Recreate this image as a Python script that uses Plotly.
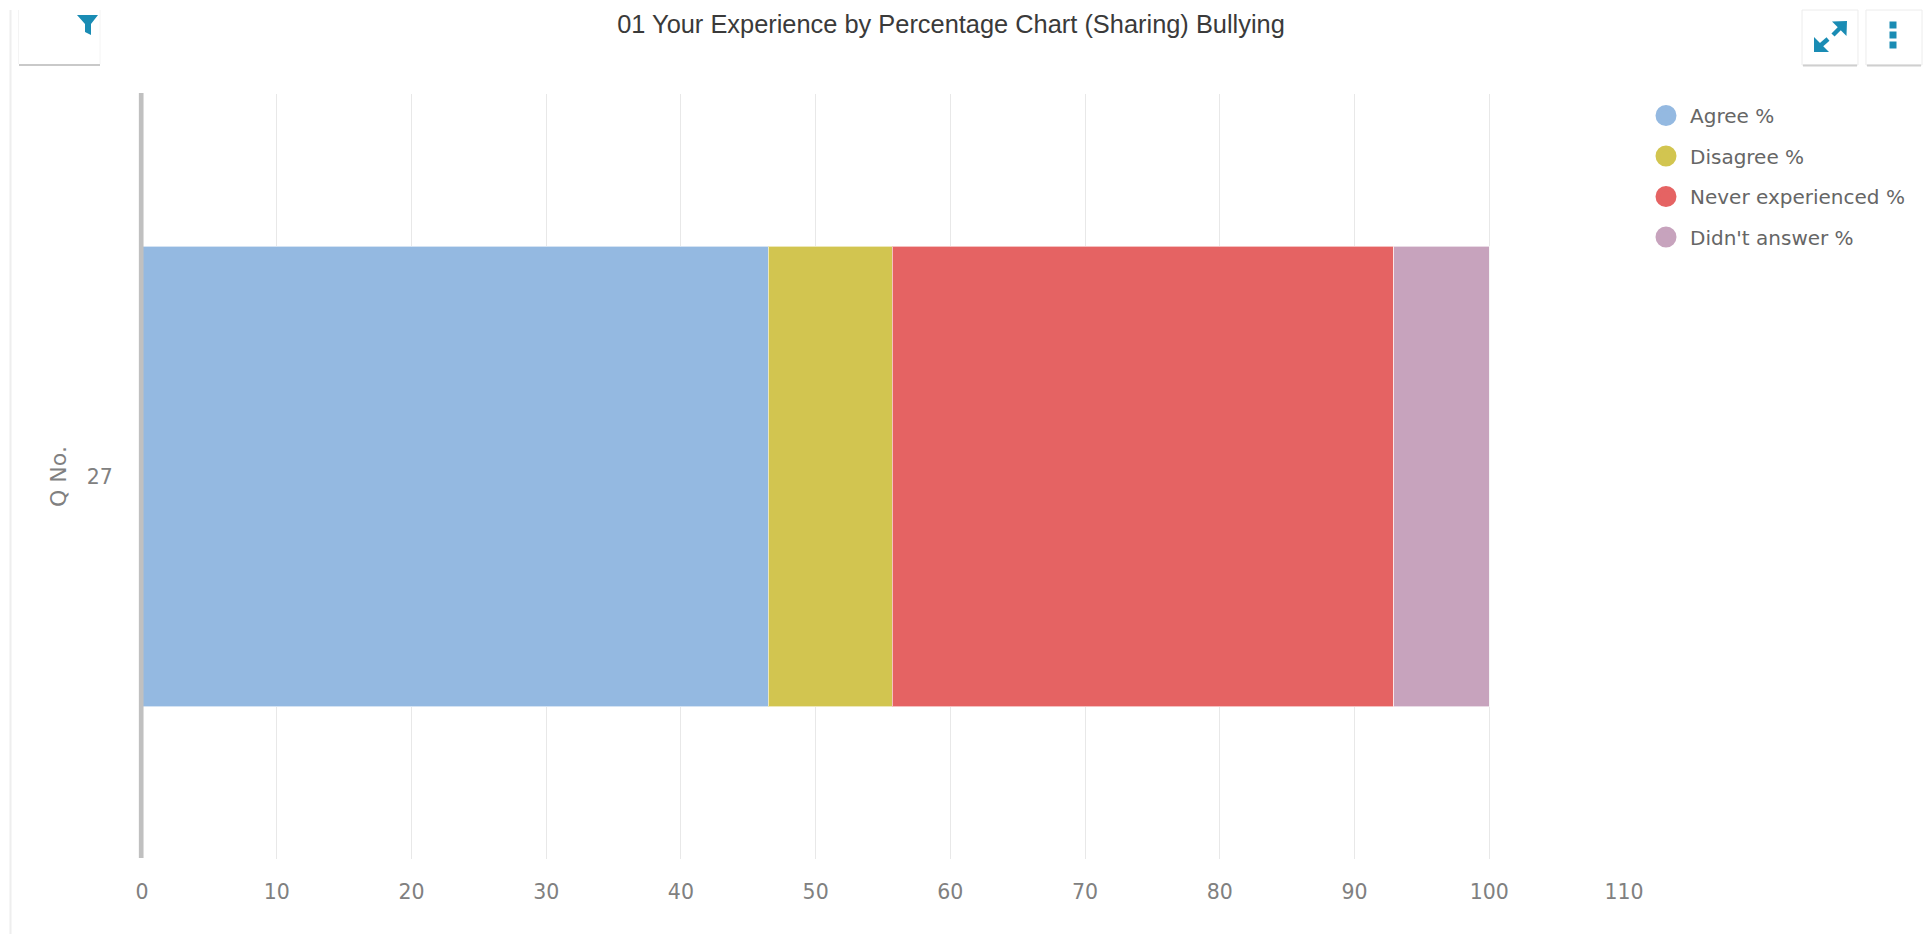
import plotly.graph_objects as go

categories = ["27"]
series_names = ["Agree %", "Disagree %", "Never experienced %", "Didn't answer %"]
agree = [46.5]
disagree = [9.2]
never = [37.2]
no_answer = [7.1]
series_values = [agree, disagree, never, no_answer]
colors = ["#94b9e1", "#d2c550", "#e56363", "#c7a3bd"]
x_ticks = list(range(0, 111, 10))
title_text = "01 Your Experience by Percentage Chart (Sharing) Bullying"
y_title = "Q No."

W, H = 1923, 934
L, R, T, B = 142, 299, 94, 75
ICON = "#1a8cb4"


def px(x):
    return (x - L) / (W - L - R)


def py(y):
    return 1 - (y - T) / (H - T - B)


def path(points, close=True):
    s = "M " + " L ".join(f"{px(x):.5f},{py(y):.5f}" for x, y in points)
    return s + (" Z" if close else "")


def poly(points, fill=ICON, line="rgba(0,0,0,0)", width=0):
    return dict(type="path", xref="paper", yref="paper", path=path(points),
                fillcolor=fill, line=dict(color=line, width=width), layer="above")


def seg(x0, y0, x1, y1, color, width):
    return dict(type="line", xref="paper", yref="paper", x0=px(x0), y0=py(y0),
                x1=px(x1), y1=py(y1), line=dict(color=color, width=width), layer="above")


fig = go.Figure()
for name, vals, col in zip(series_names, series_values, colors):
    fig.add_bar(y=categories, x=vals, orientation="h", name=name, showlegend=False,
                marker=dict(color=col, line=dict(color="rgba(255,255,255,0.6)", width=1)))
for name, col in zip(series_names, colors):
    fig.add_scatter(y=[None], x=[None], mode="markers", name=name, legendgroup=name,
                    marker=dict(color=col, size=16, symbol="circle", line=dict(color=col, width=5)))

shapes = [
    # y axis line at value zero, above the bars
    seg(141.2, 93, 141.2, 858, "#c0c0c0", 4.7),
    # card left edge
    seg(10.5, 10, 10.5, 934, "#eeeeee", 2),
    # filter button
    seg(18.5, 10, 18.5, 64, "#f4f4f4", 1),
    seg(100, 10, 100, 64, "#f4f4f4", 1),
    seg(19, 65, 100, 65, "#c9c9c9", 2),
    poly([(77, 15), (98, 15), (91, 24), (91, 35), (85, 32), (85, 24)]),
]
# top-right buttons
for x0, x1 in [(1802, 1858), (1866, 1922)]:
    shapes.append(poly([(x0, 10), (x1, 10), (x1, 65), (x0, 65)], fill="#ffffff", line="#ececec", width=1))
    shapes.append(seg(x0 + 1, 65.5, x1 - 1, 65.5, "#cfcfcf", 2))
# expand icon
shapes += [
    seg(1833, 35, 1841, 27, ICON, 4.5),
    seg(1828, 39, 1820, 46, ICON, 4.5),
    poly([(1847, 21), (1832, 21.5), (1846.5, 36)]),
    poly([(1814, 52), (1814, 37), (1829, 52)]),
]
# menu icon
for yc in (25, 35, 45):
    shapes.append(poly([(1889.5, yc - 3.5), (1896.5, yc - 3.5), (1896.5, yc + 3.5), (1889.5, yc + 3.5)]))

fig.update_layout(
    width=W, height=H, autosize=False,
    margin=dict(l=L, r=R, t=T, b=B),
    paper_bgcolor="white", plot_bgcolor="white",
    barmode="stack", bargap=0.398,
    title=dict(text=title_text, x=951 / W, xanchor="center", y=1 - 24.5 / H, yanchor="middle",
               font=dict(family="Liberation Sans", size=25.4, color="#3a3a3a")),
    font=dict(family="DejaVu Sans", color="#777777"),
    legend=dict(x=px(1642), xanchor="left", y=py(96), yanchor="top",
                itemwidth=38, traceorder="grouped", tracegroupgap=11.5, itemclick=False, itemdoubleclick=False,
                font=dict(family="DejaVu Sans", size=20, color="#666666"),
                bgcolor="rgba(0,0,0,0)", borderwidth=0),
    xaxis=dict(range=[0, 110], tickvals=x_ticks, showgrid=True, gridcolor="#e8e8e8", gridwidth=1.3,
               zeroline=False, showline=False, ticks="outside", ticklen=14, tickcolor="rgba(0,0,0,0)",
               tickfont=dict(family="DejaVu Sans", size=20.5, color="#808080")),
    yaxis=dict(type="category", categoryorder="array", categoryarray=categories, showgrid=False,
               zeroline=False, showline=False, ticks="outside", ticklen=24, tickcolor="rgba(0,0,0,0)",
               tickfont=dict(family="DejaVu Sans", size=20.5, color="#808080"),
               title=dict(text=y_title, standoff=14, font=dict(family="DejaVu Sans", size=22, color="#808080"))),
    shapes=shapes,
)

fig.write_html("out.html", config={"displayModeBar": False},
               post_script="document.body.style.margin='0';document.body.style.overflow='hidden';")
